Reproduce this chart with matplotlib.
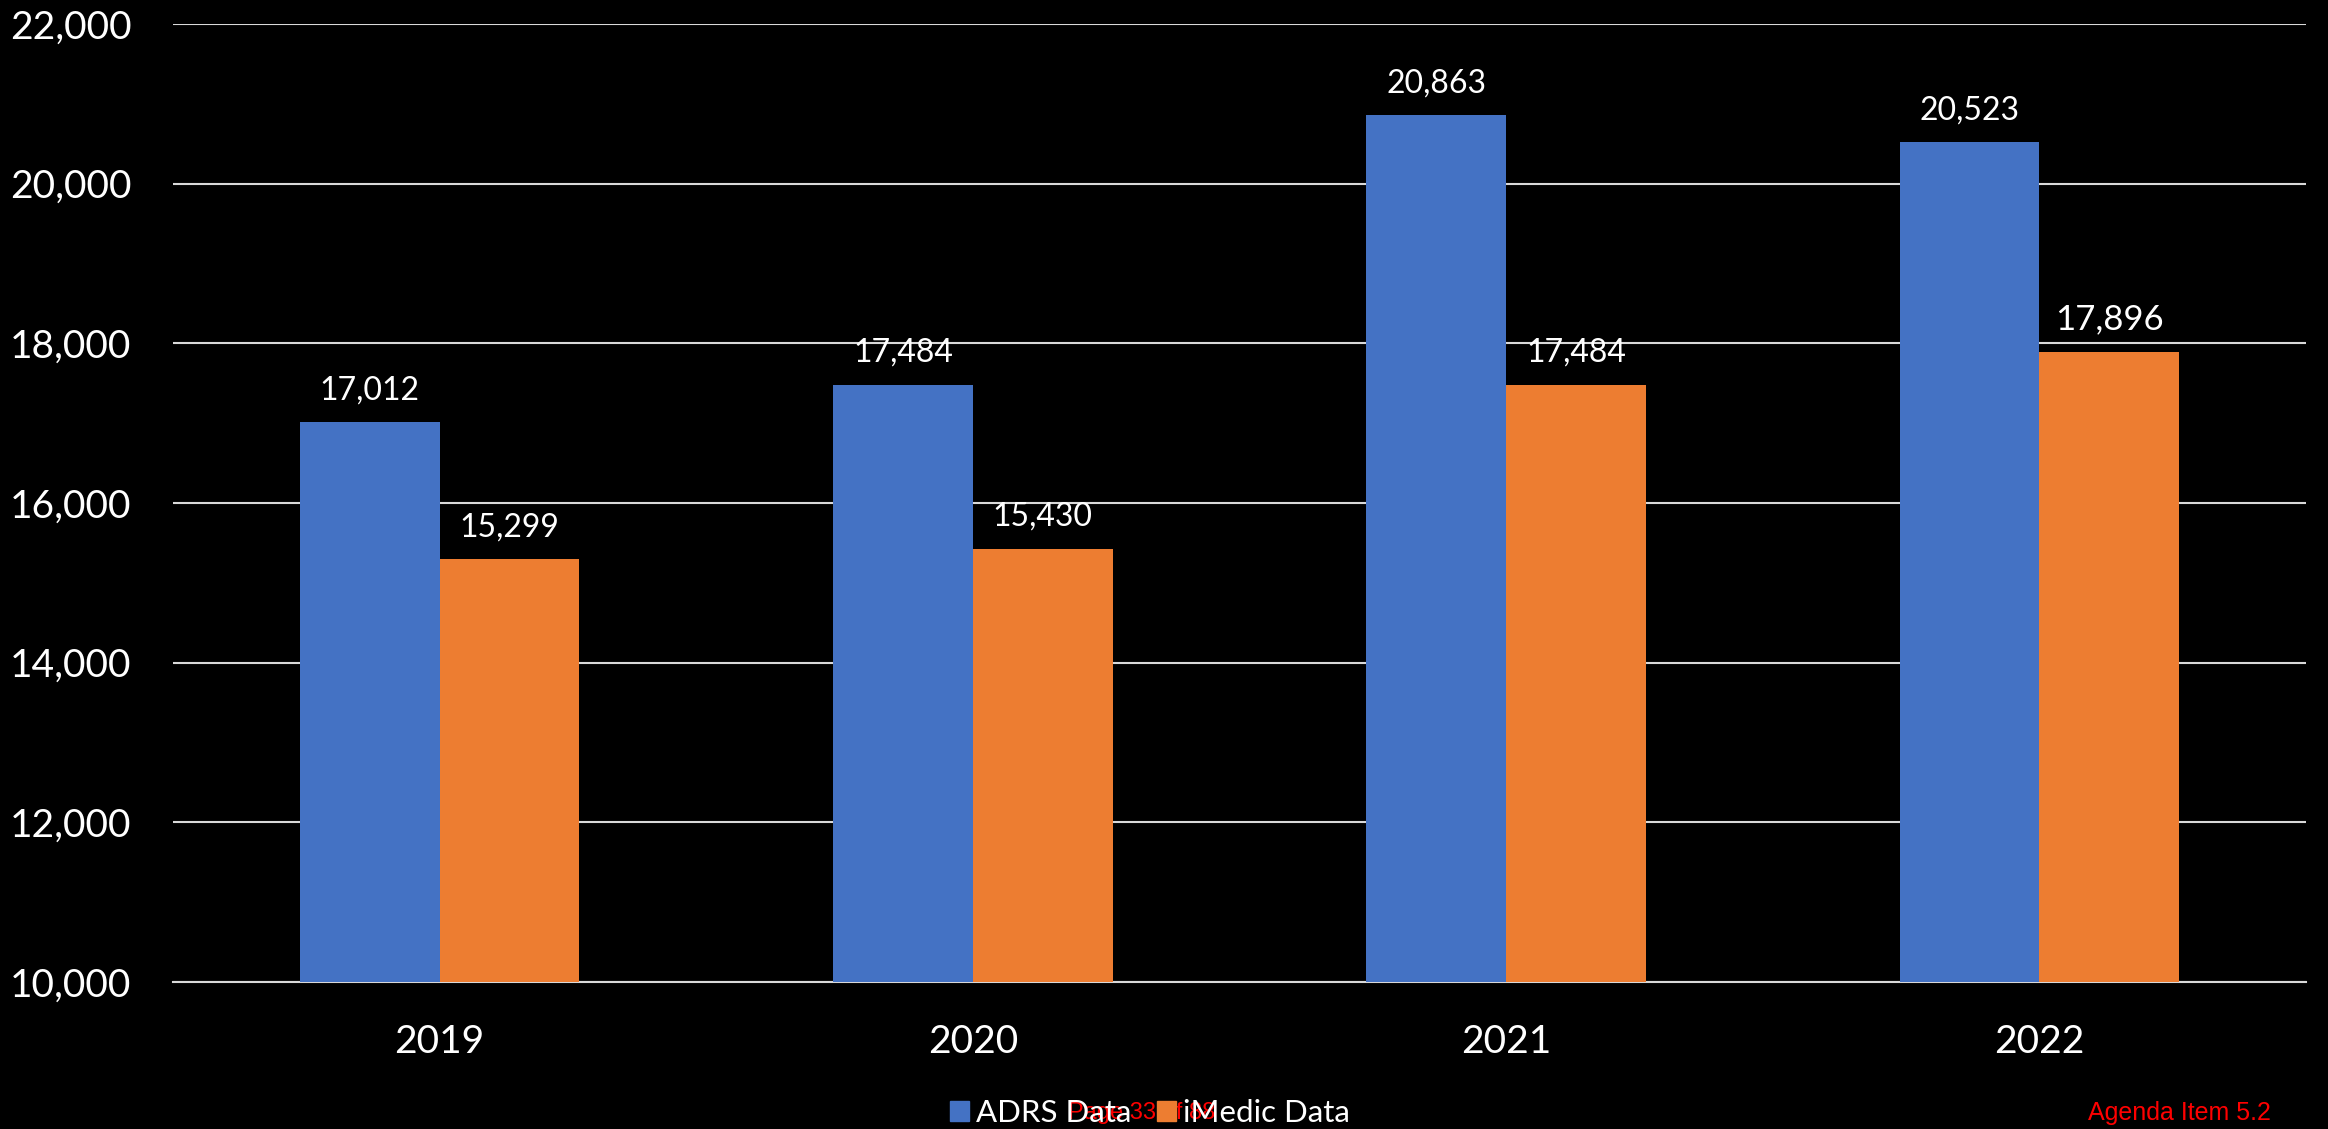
import numpy as np
from matplotlib import pyplot as plt
from matplotlib.patches import Patch
from matplotlib.ticker import FuncFormatter

years = ['2019', '2020', '2021', '2022']
adrs = [17012, 17484, 20863, 20523]
imedic = [15299, 15430, 17484, 17896]
series_names = ['ADRS Data', 'iMedic Data']

blue = '#4472c4'
orange = '#ed7d31'

plt.rcParams['font.family'] = ['Lato', 'DejaVu Sans']

fig = plt.figure(figsize=(23.28, 11.29), dpi=100, facecolor='black')
ax = fig.add_axes([0.0743, 0.1302, 0.9163, 0.8485], facecolor='black')

x = np.arange(len(years))
w = 0.262
b1 = ax.bar(x - w / 2, adrs, w, color=blue, zorder=3)
b2 = ax.bar(x + w / 2, imedic, w, color=orange, zorder=3)

for bars, vals in ((b1, adrs), (b2, imedic)):
    for rect, v in zip(bars, vals):
        size = 25 if v == 17896 else 23
        ax.annotate('{:,}'.format(v), (rect.get_x() + rect.get_width() / 2, v),
                    xytext=(0, 12), textcoords='offset points',
                    ha='center', va='bottom', color='white', fontsize=size)

ax.set_xlim(-0.5, 3.5)
ax.set_ylim(10000, 22000)
ax.set_yticks(range(10000, 22001, 2000))
ax.yaxis.set_major_formatter(FuncFormatter(lambda v, p: '{:,}'.format(int(v))))
ax.set_xticks(x)
ax.set_xticklabels(years)
ax.tick_params(colors='white', labelsize=28, length=0)
ax.tick_params(axis='y', pad=30)
ax.tick_params(axis='x', pad=30)
ax.grid(axis='y', color='#d9d9d9', linewidth=1.5, zorder=0)
for s in ['top', 'right', 'left']:
    ax.spines[s].set_visible(False)
ax.spines['bottom'].set_color('#d9d9d9')
ax.spines['bottom'].set_linewidth(1.5)

handles = [Patch(color=blue), Patch(color=orange)]
leg = fig.legend(handles, series_names, loc='lower center', bbox_to_anchor=(0.494, -0.012),
                 ncol=2, frameon=False, fontsize=22.5, handlelength=0.6, handleheight=0.6,
                 handletextpad=0.25, columnspacing=0.8, borderpad=0)
for t in leg.get_texts():
    t.set_color('white')

fig.text(0.4905, 0.014, 'Page 33 of 88', color='red', fontsize=17,
         family=['Liberation Sans Narrow', 'Liberation Sans'], ha='center', va='center')
fig.text(0.897, 0.014, 'Agenda Item 5.2', color='red', fontsize=18,
         family='Liberation Sans', ha='left', va='center')

fig.savefig('out.png', dpi=100, facecolor='black')
